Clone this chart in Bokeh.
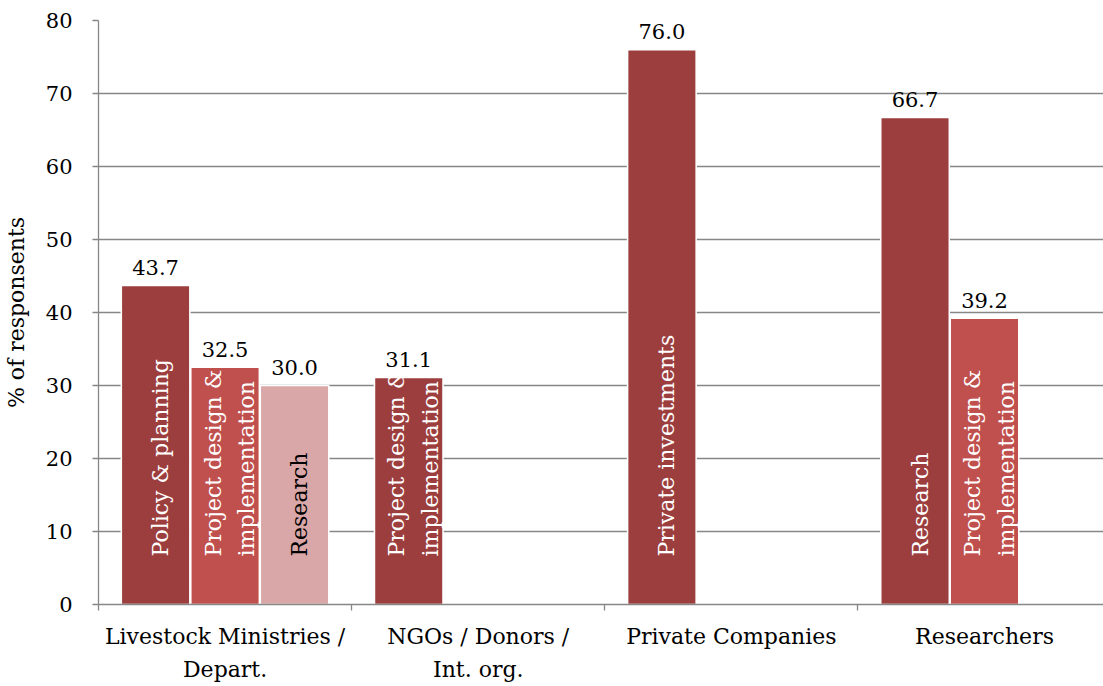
from bokeh.plotting import figure
from bokeh.models import ColumnDataSource, Range1d, FixedTicker
from bokeh.transform import dodge
from bokeh.core.properties import value
from bokeh.embed import file_html
from bokeh.resources import INLINE

# ---- data ----
categories = ["Livestock Ministries /\nDepart.", "NGOs / Donors /\nInt. org.",
              "Private Companies", "Researchers"]

series1_values = [43.7, 31.1, 76.0, 66.7]
series1_labels = ["Policy & planning", "Project design &\nimplementation",
                  "Private investments", "Research"]

series2_values = [32.5, None, None, 39.2]
series2_labels = ["Project design &\nimplementation", None, None,
                  "Project design &\nimplementation"]

series3_values = [30.0, None, None, None]
series3_labels = ["Research", None, None, None]

y_ticks = [0, 10, 20, 30, 40, 50, 60, 70, 80]
y_title = "% of responsents"

# ---- styles ----
FONT = "DejaVu Serif"
series_styles = [
    dict(color="#9C3E3E", text="white", shift=-0.2745),
    dict(color="#C0504D", text="white", shift=0.0),
    dict(color="#D9A7A7", text="black", shift=0.2745),
]
BAR_W = 0.2706
GRID = "#878787"

n = len(categories)
p = figure(width=1103, height=686, x_range=Range1d(0, n - 0.03),
           y_range=Range1d(0, 80), output_backend="svg", toolbar_location=None,
           min_border_left=98, min_border_top=20,
           min_border_bottom=82, min_border_right=0)
p.outline_line_color = None
p.background_fill_color = "white"
p.border_fill_color = "white"

centers = [i + 0.5 for i in range(n)]
xaxis = p.xaxis[0]
xaxis.ticker = FixedTicker(ticks=centers, minor_ticks=list(range(n + 1)))
xaxis.major_label_overrides = {c: lab for c, lab in zip(centers, categories)}
xaxis.major_tick_out = 0
xaxis.major_tick_in = 0
xaxis.minor_tick_out = 6
xaxis.minor_tick_in = 0
xaxis.minor_tick_line_color = GRID
xaxis.minor_tick_line_width = 1.3
xaxis.axis_line_color = GRID
xaxis.axis_line_width = 1.3
xaxis.major_label_text_font = FONT
xaxis.major_label_text_font_size = "22px"
xaxis.major_label_text_color = "black"
xaxis.major_label_text_line_height = 1.35
xaxis.major_label_standoff = 13

p.xgrid.grid_line_color = None
p.ygrid.grid_line_color = GRID
p.ygrid.grid_line_width = 1.3
p.yaxis.ticker = FixedTicker(ticks=y_ticks)
p.yaxis.axis_line_color = GRID
p.yaxis.axis_line_width = 1.3
p.yaxis.major_tick_line_color = GRID
p.yaxis.major_tick_line_width = 1.3
p.yaxis.major_tick_out = 6
p.yaxis.major_tick_in = 0
p.yaxis.minor_tick_line_color = None
p.yaxis.major_label_text_font = FONT
p.yaxis.major_label_text_font_size = "21px"
p.yaxis.major_label_text_color = "black"
p.yaxis.major_label_standoff = 20
p.yaxis.axis_label = y_title
p.yaxis.axis_label_text_font = FONT
p.yaxis.axis_label_text_font_size = "22px"
p.yaxis.axis_label_text_font_style = "normal"
p.yaxis.axis_label_text_color = "black"
p.yaxis.axis_label_standoff = 14

all_series = [(series1_values, series1_labels),
              (series2_values, series2_labels),
              (series3_values, series3_labels)]

for (vals, labs), st in zip(all_series, series_styles):
    pos = [c for c, v in zip(centers, vals) if v is not None]
    v = [v for v in vals if v is not None]
    l = [t for t, v0 in zip(labs, vals) if v0 is not None]
    src = ColumnDataSource(dict(pos=pos, val=v, lab=l,
                                vtxt=["%.1f" % x for x in v]))
    xd = dodge("pos", st["shift"])
    p.vbar(x=xd, top="val", bottom=0, width=BAR_W, source=src,
           fill_color=st["color"], line_color="white", line_width=1.5)
    p.text(x=xd, y=0, text="lab", source=src, angle=1.5708,
           text_align="left", text_baseline="middle", x_offset=5, y_offset=-48,
           text_font=value(FONT), text_font_size="22px",
           text_color=st["text"], text_line_height=1.35)
    p.text(x=xd, y="val", text="vtxt", source=src, text_align="center",
           text_baseline="alphabetic", y_offset=-18, text_font=value(FONT),
           text_font_size="21px", text_color="black")

open("out.html", "w").write(file_html(p, INLINE))
